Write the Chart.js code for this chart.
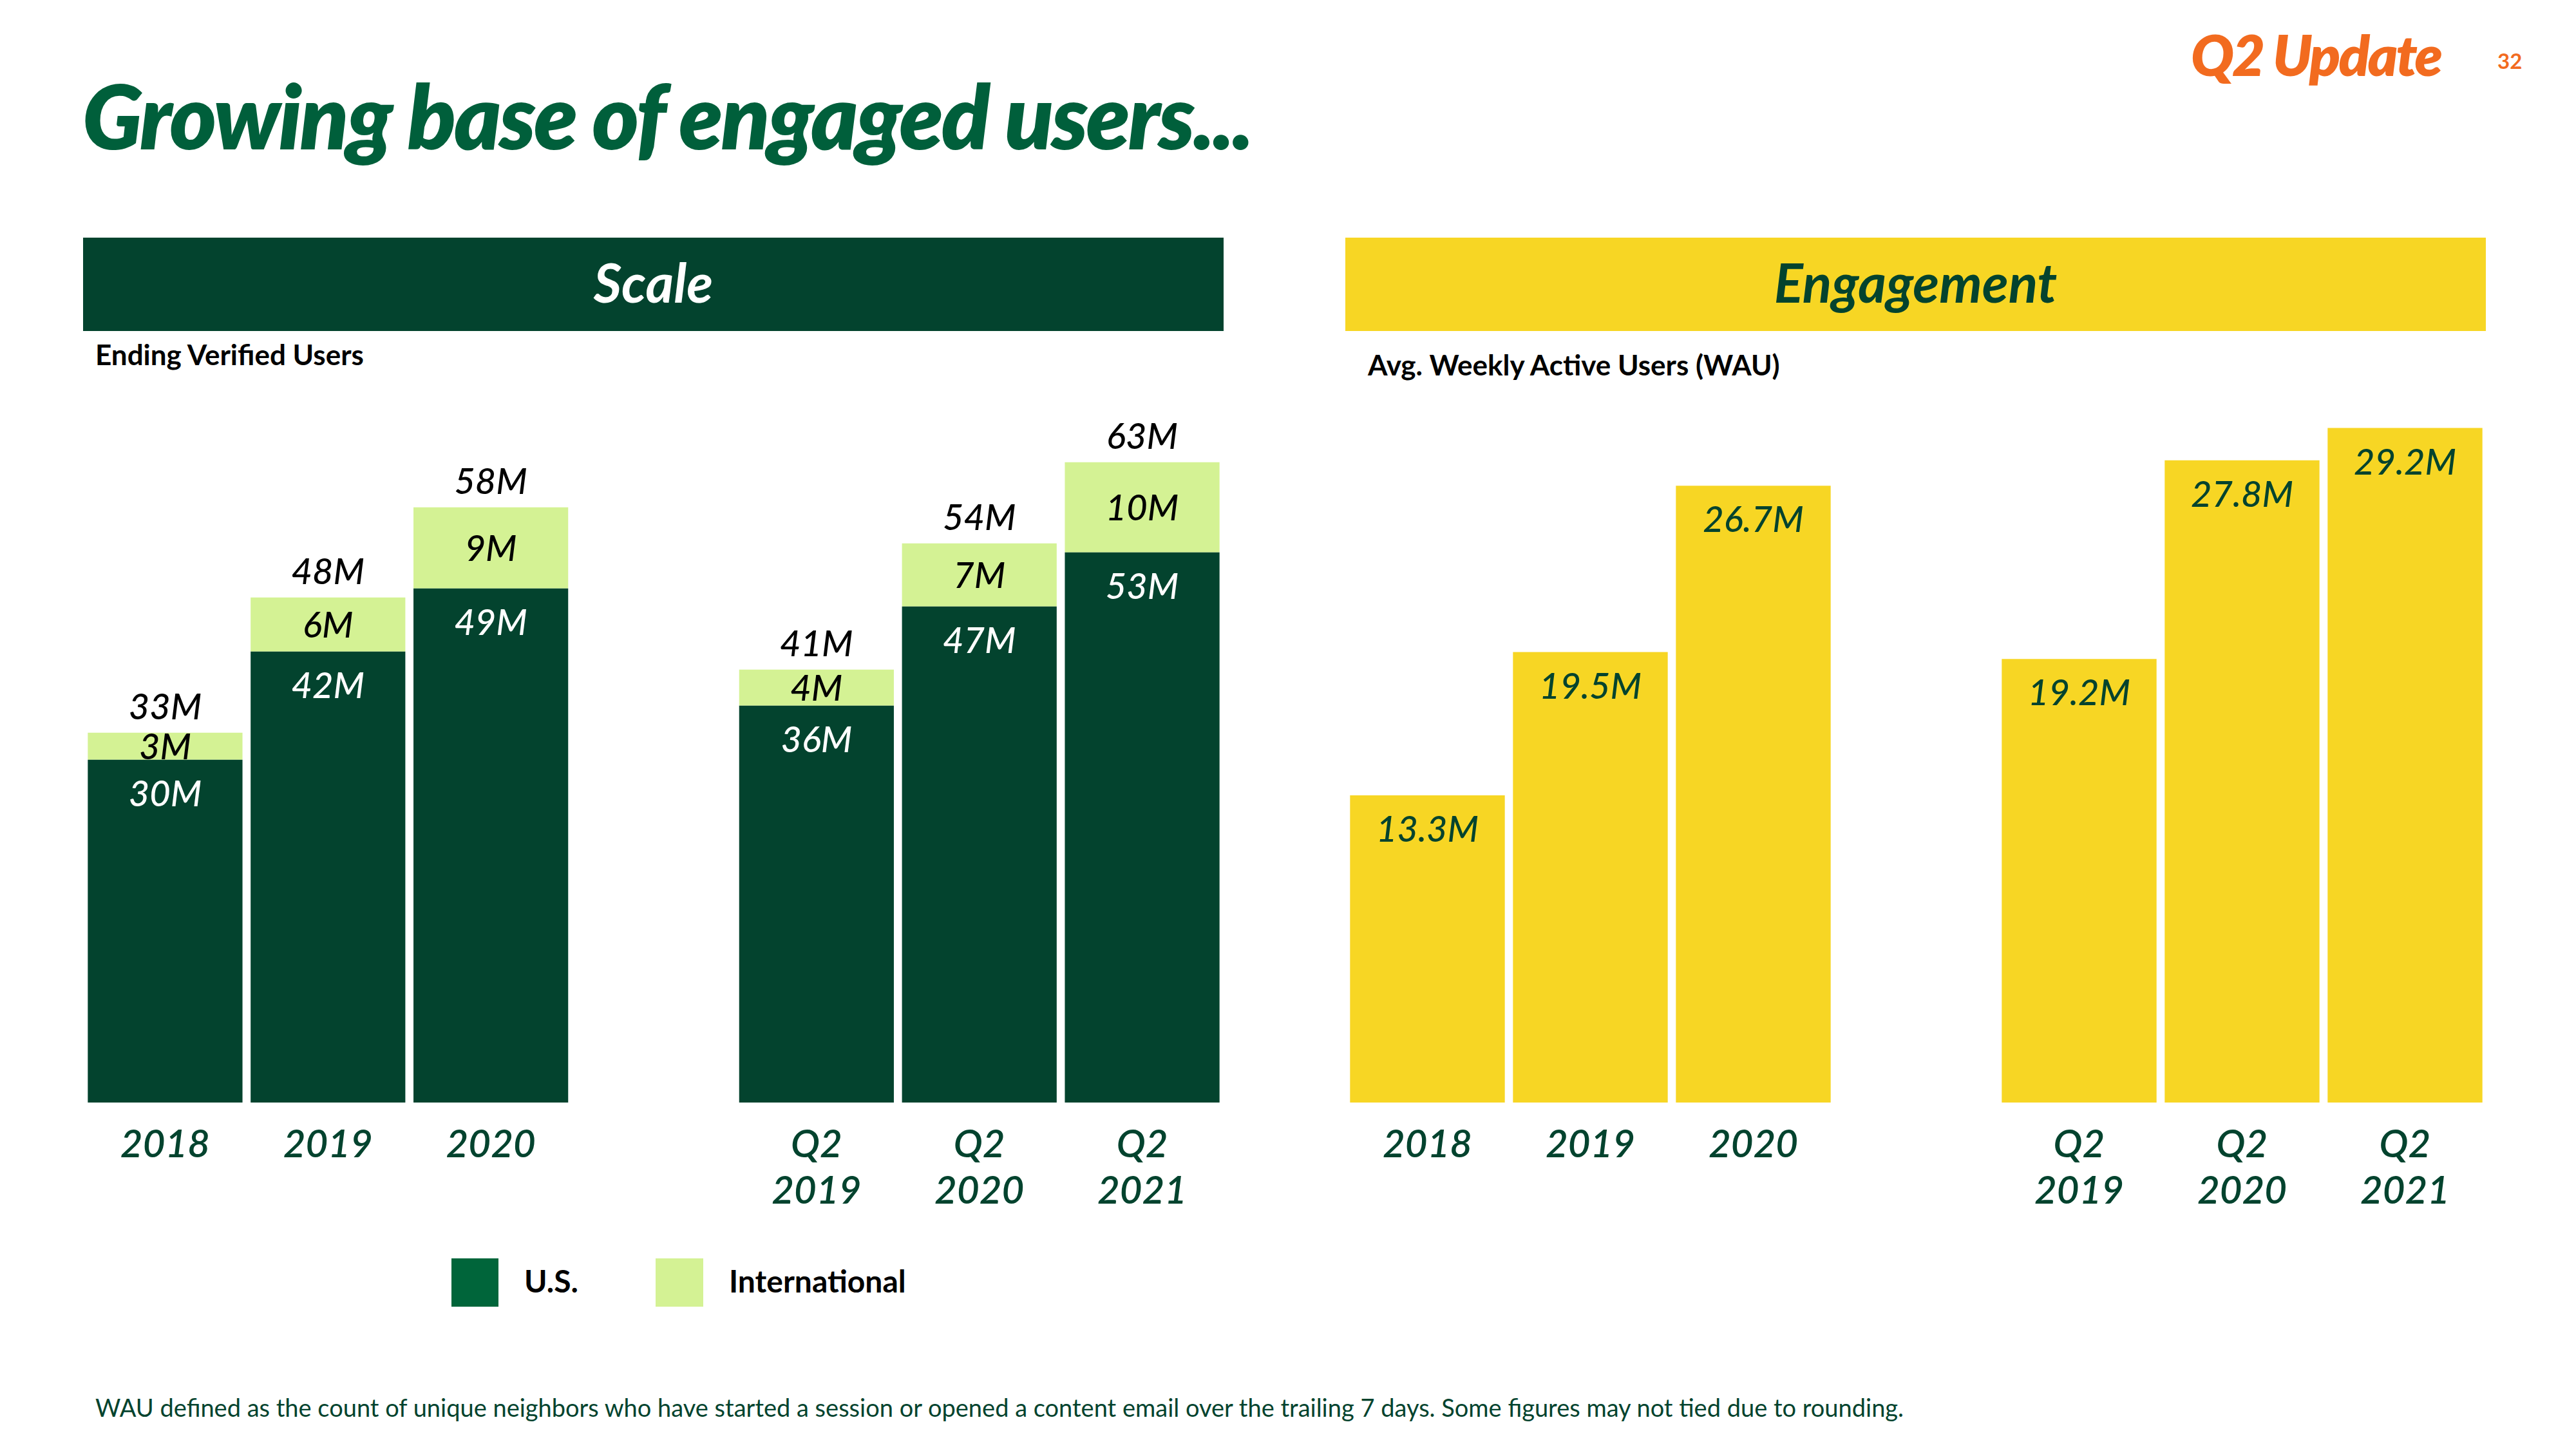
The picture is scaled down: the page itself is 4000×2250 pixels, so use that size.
<!DOCTYPE html>
<html>
<head>
<meta charset="utf-8">
<script src="https://cdn.jsdelivr.net/npm/chart.js@4.4.1/dist/chart.umd.min.js"></script>
<style>
  html, body { margin: 0; padding: 0; background: #ffffff; }
  body { width: 4000px; height: 2250px; position: relative; overflow: hidden; font-family: Lato, "Open Sans", sans-serif; }
  .t { position: absolute; white-space: nowrap; line-height: 1; }
  .box { position: absolute; }
  canvas { position: absolute; }
</style>
</head>
<body>
<div class="t" id="title" style="left:128px; top:110px; font-size:138px; font-weight:800; font-style:italic; color:#005F3B; letter-spacing:-3px;">Growing base of engaged users...</div>
<div class="t" style="left:3402px; top:40px; font-size:88px; font-weight:800; font-style:italic; color:#F26B1F; letter-spacing:-3px;">Q2 Update</div>
<div class="t" style="left:3878px; top:78px; font-size:33px; font-weight:700; color:#F26B1F;">32</div>

<div class="box" style="left:129px; top:369px; width:1771px; height:145px; background:#03432E;"></div>
<div class="t" style="left:129px; top:396px; width:1771px; text-align:center; font-size:84px; font-weight:700; font-style:italic; color:#ffffff;">Scale</div>
<div class="box" style="left:2089px; top:369px; width:1771px; height:145px; background:#F7D624;"></div>
<div class="t" style="left:2089px; top:396px; width:1771px; text-align:center; font-size:84px; font-weight:700; font-style:italic; color:#03432E;">Engagement</div>

<div class="t" style="left:148px; top:528px; font-size:44px; font-weight:700; color:#000000;">Ending Verified Users</div>
<div class="t" style="left:2124px; top:544px; font-size:44px; font-weight:700; color:#000000;">Avg. Weekly Active Users (WAU)</div>

<canvas id="scaleChart" width="1770" height="1312" style="left:130px; top:600px; width:1770px; height:1312px;"></canvas>
<canvas id="engChart" width="1771" height="1312" style="left:2090px; top:600px; width:1771px; height:1312px;"></canvas>

<div class="box" style="left:701px; top:1954px; width:73px; height:75px; background:#00653A;"></div>
<div class="t" style="left:814px; top:1965px; font-size:48px; font-weight:700; color:#000000;">U.S.</div>
<div class="box" style="left:1018px; top:1954px; width:74px; height:75px; background:#D4F294;"></div>
<div class="t" style="left:1132px; top:1965px; font-size:48px; font-weight:700; color:#000000;">International</div>

<div class="t" style="left:148px; top:2166px; font-size:38px; font-weight:400; color:#03432E;">WAU defined as the count of unique neighbors who have started a session or opened a content email over the trailing 7 days. Some figures may not tied due to rounding.</div>

<script>
// ---------- data ----------
const scaleCategories = ['2018', '2019', '2020', '', ['Q2', '2019'], ['Q2', '2020'], ['Q2', '2021']];
const usUsers = [30, 42, 49, null, 36, 47, 53];
const intlUsers = [3, 6, 9, null, 4, 7, 10];
const totalUsers = [33, 48, 58, null, 41, 54, 63];

const engCategories = ['2018', '2019', '2020', '', ['Q2', '2019'], ['Q2', '2020'], ['Q2', '2021']];
const wauValues = [13.3, 19.5, 26.7, null, 19.2, 27.8, 29.2];

// ---------- styles ----------
const DARK_GREEN = '#03432E';
const LIGHT_GREEN = '#D4F294';
const YELLOW = '#F7D624';
const LABEL_FONT = 'italic 500 56px Lato';

const valueLabels = {
  id: 'valueLabels',
  afterDatasetsDraw(chart, args, opts) {
    const ctx = chart.ctx;
    ctx.save();
    ctx.font = LABEL_FONT;
    ctx.textAlign = 'center';
    ctx.textBaseline = 'alphabetic';
    chart.data.datasets.forEach((ds, di) => {
      const meta = chart.getDatasetMeta(di);
      meta.data.forEach((bar, i) => {
        const v = ds.data[i];
        if (v === null || v === undefined) return;
        const top = Math.min(bar.y, bar.base);
        const bottom = Math.max(bar.y, bar.base);
        let y;
        if (ds.labelPlacement === 'center') {
          y = (top + bottom) / 2 + 20;
        } else {
          y = top + 72;
        }
        ctx.fillStyle = ds.labelColor;
        ctx.fillText(opts.format(v), bar.x, y);
      });
    });
    if (opts.totals) {
      const meta = chart.getDatasetMeta(chart.data.datasets.length - 1);
      meta.data.forEach((bar, i) => {
        const v = opts.totals[i];
        if (v === null || v === undefined) return;
        ctx.fillStyle = '#000000';
        ctx.fillText(opts.format(v), bar.x, bar.y - 21);
      });
    }
    ctx.restore();
  }
};

function xAxis() {
  return {
    stacked: true,
    grid: { display: false, drawTicks: false },
    border: { display: false },
    ticks: {
      color: DARK_GREEN,
      padding: 30,
      autoSkip: false,
      maxRotation: 0,
      font: { family: 'Lato', size: 60, style: 'italic', weight: 600, lineHeight: 1.2 }
    },
    afterFit(scale) { scale.height = 200; }
  };
}

function build() {
  Chart.defaults.font.family = 'Lato';
  new Chart(document.getElementById('scaleChart'), {
    type: 'bar',
    plugins: [valueLabels],
    data: {
      labels: scaleCategories,
      datasets: [
        { label: 'U.S.', data: usUsers, backgroundColor: DARK_GREEN, base: -8, labelColor: '#ffffff',
          labelPlacement: 'top', barPercentage: 0.95, categoryPercentage: 1.0 },
        { label: 'International', data: intlUsers, backgroundColor: LIGHT_GREEN, labelColor: '#000000',
          labelPlacement: 'center', barPercentage: 0.95, categoryPercentage: 1.0 }
      ]
    },
    options: {
      responsive: false,
      animation: false,
      layout: { padding: 0 },
      plugins: {
        legend: { display: false },
        tooltip: { enabled: false },
        valueLabels: { totals: totalUsers, format: v => Math.round(v) + 'M' }
      },
      scales: {
        x: xAxis(),
        y: { stacked: true, display: false, min: -8, max: 71.4 }
      }
    }
  });

  new Chart(document.getElementById('engChart'), {
    type: 'bar',
    plugins: [valueLabels],
    data: {
      labels: engCategories,
      datasets: [
        { label: 'Avg. WAU', data: wauValues, backgroundColor: YELLOW, labelColor: DARK_GREEN,
          labelPlacement: 'top', barPercentage: 0.95, categoryPercentage: 1.0 }
      ]
    },
    options: {
      responsive: false,
      animation: false,
      layout: { padding: 0 },
      plugins: {
        legend: { display: false },
        tooltip: { enabled: false },
        valueLabels: { format: v => v.toFixed(1) + 'M' }
      },
      scales: {
        x: xAxis(),
        y: { display: false, min: 0, max: 31 }
      }
    }
  });
}

Promise.all([
  document.fonts.load('italic 500 56px Lato'),
  document.fonts.load('italic 600 60px Lato')
]).then(build, build);
</script>
</body>
</html>
